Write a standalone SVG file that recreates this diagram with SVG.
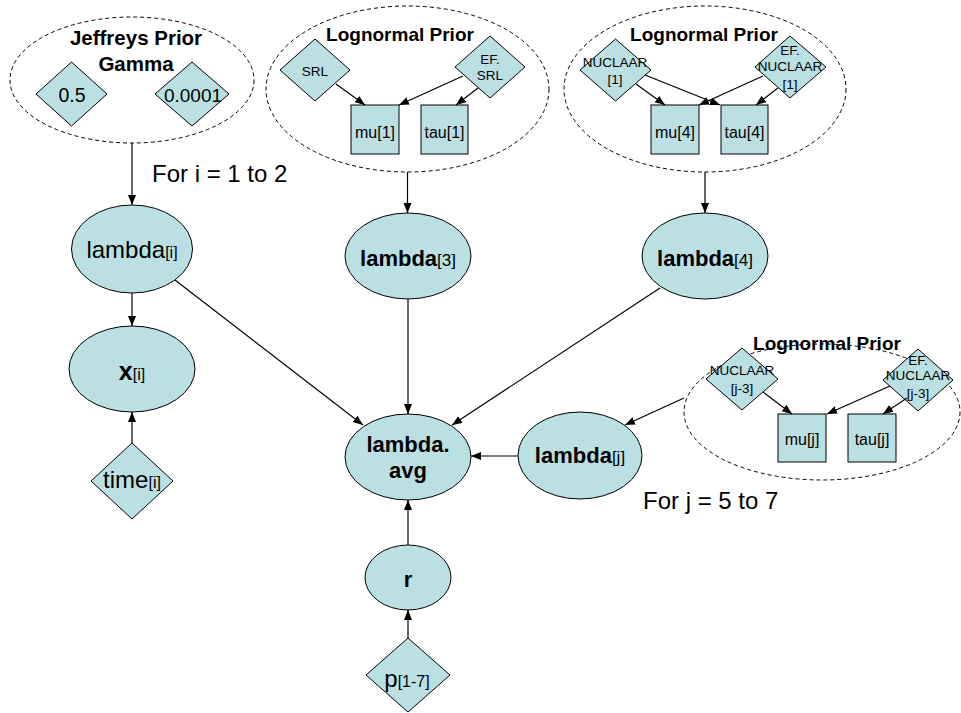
<svg xmlns="http://www.w3.org/2000/svg" width="961" height="713" viewBox="0 0 961 713">
<style>
.n{fill:#BBE0E3;stroke:#000;stroke-width:1}
.plate{fill:none;stroke:#000;stroke-width:1;stroke-dasharray:4,3}
.c{fill:none;stroke:#000;stroke-width:1.2;marker-end:url(#ah)}
text{font-family:"Liberation Sans",Arial,sans-serif;fill:#000;text-anchor:middle}
.b{font-weight:bold}
.hd{font-weight:bold;font-size:19px}
.big{font-size:24px}
.sm{font-size:13.5px}
.box{font-size:16px}
</style>
<defs>
<marker id="ah" markerUnits="userSpaceOnUse" markerWidth="11" markerHeight="9" refX="10" refY="4" orient="auto">
<path d="M0,0 L10,4 L0,8 z" fill="#000"/>
</marker>
</defs>
<rect width="961" height="713" fill="#fff"/>

<g id="plate-jeffreys">
<ellipse class="plate" cx="132" cy="80" rx="122" ry="63"/>
<text class="b" x="136" y="45" font-size="20.5">Jeffreys Prior</text>
<text class="b" x="136" y="71" font-size="20.5">Gamma</text>
</g>
<g id="n-05"><polygon class="n" points="71.5,62 107,94 71.5,126 36,94"/><text x="72" y="102" font-size="19.5">0.5</text></g>
<g id="n-00001"><polygon class="n" points="192,62 229,94 192,126 155,94"/><text x="193" y="102" font-size="19">0.0001</text></g>

<g id="plate-logn1">
<ellipse class="plate" cx="407.5" cy="89" rx="141.5" ry="83"/>
<text class="hd" x="400" y="41">Lognormal Prior</text>
</g>
<g id="n-srl"><polygon class="n" points="315,39 350,70 315,101 280,70"/><text class="sm" x="315" y="76">SRL</text></g>
<g id="n-efsrl"><polygon class="n" points="490,36 525,67 490,98 455,67"/><text class="sm" x="490" y="64">EF.</text><text class="sm" x="490" y="80">SRL</text></g>
<g id="n-mu1"><rect class="n" x="351" y="105" width="48" height="49"/><text class="box" x="375" y="138">mu[1]</text></g>
<g id="n-tau1"><rect class="n" x="421" y="105" width="47" height="49"/><text class="box" x="444.5" y="138">tau[1]</text></g>

<g id="plate-logn2">
<ellipse class="plate" cx="705" cy="89" rx="141" ry="83"/>
<text class="hd" x="704" y="41">Lognormal Prior</text>
</g>
<g id="n-nuc1"><polygon class="n" points="615.5,39 651,70 615.5,101 580,70"/><text class="sm" x="615" y="67">NUCLAAR</text><text class="sm" x="615" y="84">[1]</text></g>
<g id="n-efnuc1"><polygon class="n" points="790,36 826,67 790,98 755,67"/><text class="sm" x="790" y="55">EF.</text><text class="sm" x="790" y="71">NUCLAAR</text><text class="sm" x="790" y="89">[1]</text></g>
<g id="n-mu4"><rect class="n" x="651" y="105" width="48" height="49"/><text class="box" x="675" y="138">mu[4]</text></g>
<g id="n-tau4"><rect class="n" x="721" y="105" width="47" height="49"/><text class="box" x="744.5" y="138">tau[4]</text></g>

<g id="plate-logn3">
<ellipse class="plate" cx="822" cy="412" rx="138" ry="68"/>
<text class="hd" x="827" y="350">Lognormal Prior</text>
</g>
<g id="n-nucj"><polygon class="n" points="742,348 778,379 742,410 706,379"/><text class="sm" x="742" y="375">NUCLAAR</text><text class="sm" x="742" y="393">[j-3]</text></g>
<g id="n-efnucj"><polygon class="n" points="918,349 953,380 918,411 883,380"/><text class="sm" x="918" y="365">EF.</text><text class="sm" x="918" y="380">NUCLAAR</text><text class="sm" x="918" y="398">[j-3]</text></g>
<g id="n-muj"><rect class="n" x="778" y="414" width="48" height="48"/><text class="box" x="802" y="445">mu[j]</text></g>
<g id="n-tauj"><rect class="n" x="848" y="414" width="48" height="48"/><text class="box" x="872" y="445">tau[j]</text></g>

<g id="n-lambdai"><ellipse class="n" cx="132" cy="249" rx="60.5" ry="44"/><text x="132" y="258" font-size="24">lambda<tspan font-size="16">[i]</tspan></text></g>
<g id="n-xi"><ellipse class="n" cx="132" cy="369" rx="63" ry="43"/><text class="b" x="132" y="380" font-size="25">x<tspan font-size="16" font-weight="normal">[i]</tspan></text></g>
<g id="n-timei"><polygon class="n" points="132,443 173,481 132,519 91,481"/><text x="132" y="488" font-size="24">time<tspan font-size="16">[i]</tspan></text></g>

<g id="n-lambda3"><ellipse class="n" cx="408" cy="256" rx="63" ry="43"/><text x="408" y="266" font-size="22"><tspan font-weight="bold">lambda</tspan><tspan font-size="17">[3]</tspan></text></g>
<g id="n-lambda4"><ellipse class="n" cx="705" cy="256" rx="63" ry="43"/><text x="705" y="266" font-size="22"><tspan font-weight="bold">lambda</tspan><tspan font-size="17">[4]</tspan></text></g>
<g id="n-lambdaj"><ellipse class="n" cx="580" cy="455.5" rx="62" ry="43.5"/><text x="580" y="463" font-size="22"><tspan font-weight="bold">lambda</tspan><tspan font-size="17">[j]</tspan></text></g>
<g id="n-avg"><ellipse class="n" cx="408" cy="457" rx="63" ry="43"/><text class="b" x="408" y="452" font-size="22">lambda.</text><text class="b" x="408" y="478" font-size="22">avg</text></g>
<g id="n-r"><ellipse class="n" cx="408" cy="577.5" rx="43" ry="32.5"/><text class="b" x="408" y="587" font-size="22">r</text></g>
<g id="n-p"><polygon class="n" points="408,638 450,675 408,712 366,675"/><text x="407" y="687" font-size="24">p<tspan font-size="16">[1-7]</tspan></text></g>

<g id="labels">
<text class="big" x="152" y="182" style="text-anchor:start">For i = 1 to 2</text>
<text class="big" x="643" y="509" style="text-anchor:start">For j = 5 to 7</text>
</g>

<g id="connectors">
<line class="c" x1="336" y1="84" x2="365" y2="105"/>
<line class="c" x1="463" y1="76" x2="399" y2="105"/>
<line class="c" x1="478" y1="88" x2="456" y2="105"/>
<line class="c" x1="636" y1="84" x2="665" y2="105"/>
<line class="c" x1="645" y1="75" x2="720" y2="105"/>
<line class="c" x1="763" y1="76" x2="699" y2="105"/>
<line class="c" x1="778" y1="88" x2="756" y2="105"/>
<line class="c" x1="763" y1="392" x2="792" y2="414"/>
<line class="c" x1="890" y1="386" x2="827" y2="414"/>
<line class="c" x1="907" y1="398" x2="883" y2="414"/>
<line class="c" x1="132" y1="143" x2="132" y2="205"/>
<line class="c" x1="132" y1="293" x2="132" y2="326"/>
<line class="c" x1="132" y1="443" x2="132" y2="412"/>
<line class="c" x1="407.5" y1="172" x2="407.5" y2="213"/>
<line class="c" x1="705" y1="172" x2="705" y2="213"/>
<line class="c" x1="175" y1="280" x2="363" y2="425"/>
<line class="c" x1="408" y1="299" x2="408" y2="414"/>
<line class="c" x1="660" y1="288" x2="452" y2="425"/>
<line class="c" x1="684" y1="398" x2="625" y2="425"/>
<line class="c" x1="518" y1="456" x2="471" y2="456"/>
<line class="c" x1="408" y1="545" x2="408" y2="500"/>
<line class="c" x1="408" y1="638" x2="408" y2="610"/>
</g>
</svg>
